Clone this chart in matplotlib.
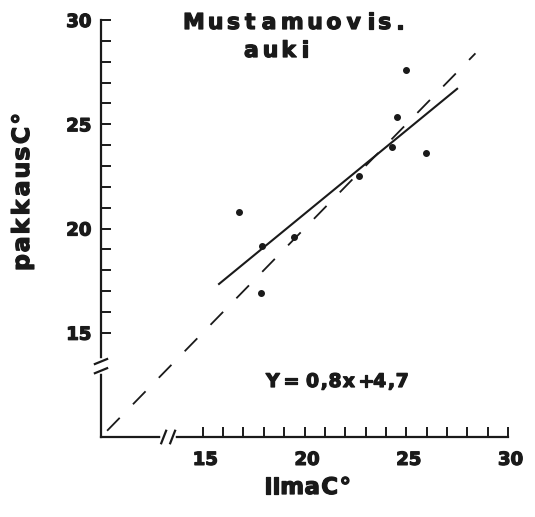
import matplotlib
matplotlib.use("Agg")
import matplotlib.pyplot as plt
import matplotlib.patheffects as pe
from matplotlib.ticker import FixedLocator
from matplotlib.textpath import TextPath
from matplotlib.font_manager import FontProperties
from matplotlib.transforms import ScaledTranslation

# mittaukset: ilman ja pakkauksen lämpötila (C)
ilma = [16.8, 17.9, 17.85, 19.5, 22.7, 24.3, 24.55, 25.0, 25.95]
pakkaus = [20.8, 19.15, 16.9, 19.6, 22.5, 23.9, 25.35, 27.6, 23.6]

# regressiosuora y = 0,8x + 4,7
kulmakerroin = 0.8
vakio = 4.7
suora_x = [15.8, 27.5]
# vertailusuora y = x
vertailu_x = [10.3, 28.4]

major_ticks = [15, 20, 25, 30]
minor_ticks = [v for v in range(15, 31) if v not in major_ticks]

W, H = 535, 517
ink = "#1a1a1a"
lihava = [pe.withStroke(linewidth=0.9, foreground=ink)]

plt.rcParams['font.family'] = ['DejaVu Sans']
plt.rcParams['font.weight'] = 'bold'

fig = plt.figure(figsize=(W / 100, H / 100), dpi=100)
ax = fig.add_axes([101 / W, 80 / H, 21 * 20.35 / W, 20.6 * 20.85 / H])
ax.set_xlim(10, 31)
ax.set_ylim(10, 30.6)


def harva_teksti(s, alku, loppu, muu, koko, pysty=False):
    """Harvennettu teksti: merkit levitetään tasaisesti välille alku..loppu (px)."""
    fp = FontProperties(family="DejaVu Sans", weight="bold")
    leveydet = []
    for ch in s:
        if ch == " ":
            leveydet.append(0.2 * koko * 100 / 72)
        else:
            e = TextPath((0, 0), ch, size=koko, prop=fp).get_extents()
            leveydet.append((e.x1 - e.x0) * 100 / 72)
    vali = (abs(loppu - alku) - sum(leveydet)) / (len(s) - 1)
    pos = alku
    for ch, w in zip(s, leveydet):
        if ch != " ":
            if pysty:
                fig.text(muu / W, 1 - pos / H, ch, rotation=90, rotation_mode="anchor",
                         ha="left", va="center", fontsize=koko, fontweight="bold",
                         color=ink, path_effects=lihava)
            else:
                fig.text(pos / W, 1 - muu / H, ch, ha="left", va="baseline",
                         fontsize=koko, fontweight="bold", color=ink,
                         path_effects=lihava)
        pos = pos - (w + vali) if pysty else pos + (w + vali)


# pisteet
ax.plot(ilma, pakkaus, "o", color=ink, markersize=4.0, clip_on=False)

# regressiosuora
suora_y = [kulmakerroin * x + vakio for x in suora_x]
ax.plot(suora_x, suora_y, "-", color=ink, lw=1.5, clip_on=False)

# y = x katkoviivana
ax.plot(vertailu_x, vertailu_x, color=ink, lw=1.3, dashes=(10, 10.5), clip_on=False)

# akselit
for side in ("top", "right"):
    ax.spines[side].set_visible(False)
for side in ("left", "bottom"):
    ax.spines[side].set_linewidth(1.6)
    ax.spines[side].set_color(ink)
ax.spines["left"].set_bounds(10, 30)
ax.spines["bottom"].set_bounds(10, 30)

ax.xaxis.set_major_locator(FixedLocator(major_ticks))
ax.xaxis.set_minor_locator(FixedLocator(minor_ticks))
ax.yaxis.set_major_locator(FixedLocator(major_ticks))
ax.yaxis.set_minor_locator(FixedLocator(minor_ticks))
ax.tick_params(which="both", direction="in", length=7, width=1.4, color=ink)
ax.tick_params(axis="x", which="major", labelsize=13, pad=10, labelcolor=ink)
ax.tick_params(axis="y", which="major", labelsize=13, pad=7, labelcolor=ink)
for lab in ax.get_xticklabels() + ax.get_yticklabels():
    lab.set_fontweight("bold")
    lab.set_path_effects(lihava)
for lab in ax.get_xticklabels():
    lab.set_horizontalalignment("left")
    lab.set_transform(lab.get_transform() + ScaledTranslation(-10 / 100, 0, fig.dpi_scale_trans))

# akselikatkot
def katko(x0, y0, pysty):
    if pysty:
        ax.plot([x0, x0], [y0 - 0.25, y0 + 0.25], color="white", lw=4, clip_on=False, zorder=3)
        for d in (-0.22, 0.22):
            ax.plot([x0 - 0.3, x0 + 0.3], [y0 + d - 0.12, y0 + d + 0.12],
                    color=ink, lw=1.6, clip_on=False, zorder=4)
    else:
        ax.plot([x0 - 0.25, x0 + 0.25], [y0, y0], color="white", lw=4, clip_on=False, zorder=3)
        for d in (-0.22, 0.22):
            ax.plot([x0 + d - 0.12, x0 + d + 0.12], [y0 - 0.3, y0 + 0.3],
                    color=ink, lw=1.6, clip_on=False, zorder=4)

katko(10, 13.4, True)
katko(13.3, 10, False)

# tekstit
harva_teksti("Mustamuovis.", 183, 400, 29, 15.8)
harva_teksti("auki", 244, 305, 57, 15.8)
harva_teksti("Y= 0,8x+4,7", 266, 406, 387, 13.5)
harva_teksti("ilmaC°", 264, 347, 494, 16.5)
harva_teksti("pakkausC°", 271, 117, 22, 17, pysty=True)

fig.savefig("out.png", dpi=100, facecolor="white")
